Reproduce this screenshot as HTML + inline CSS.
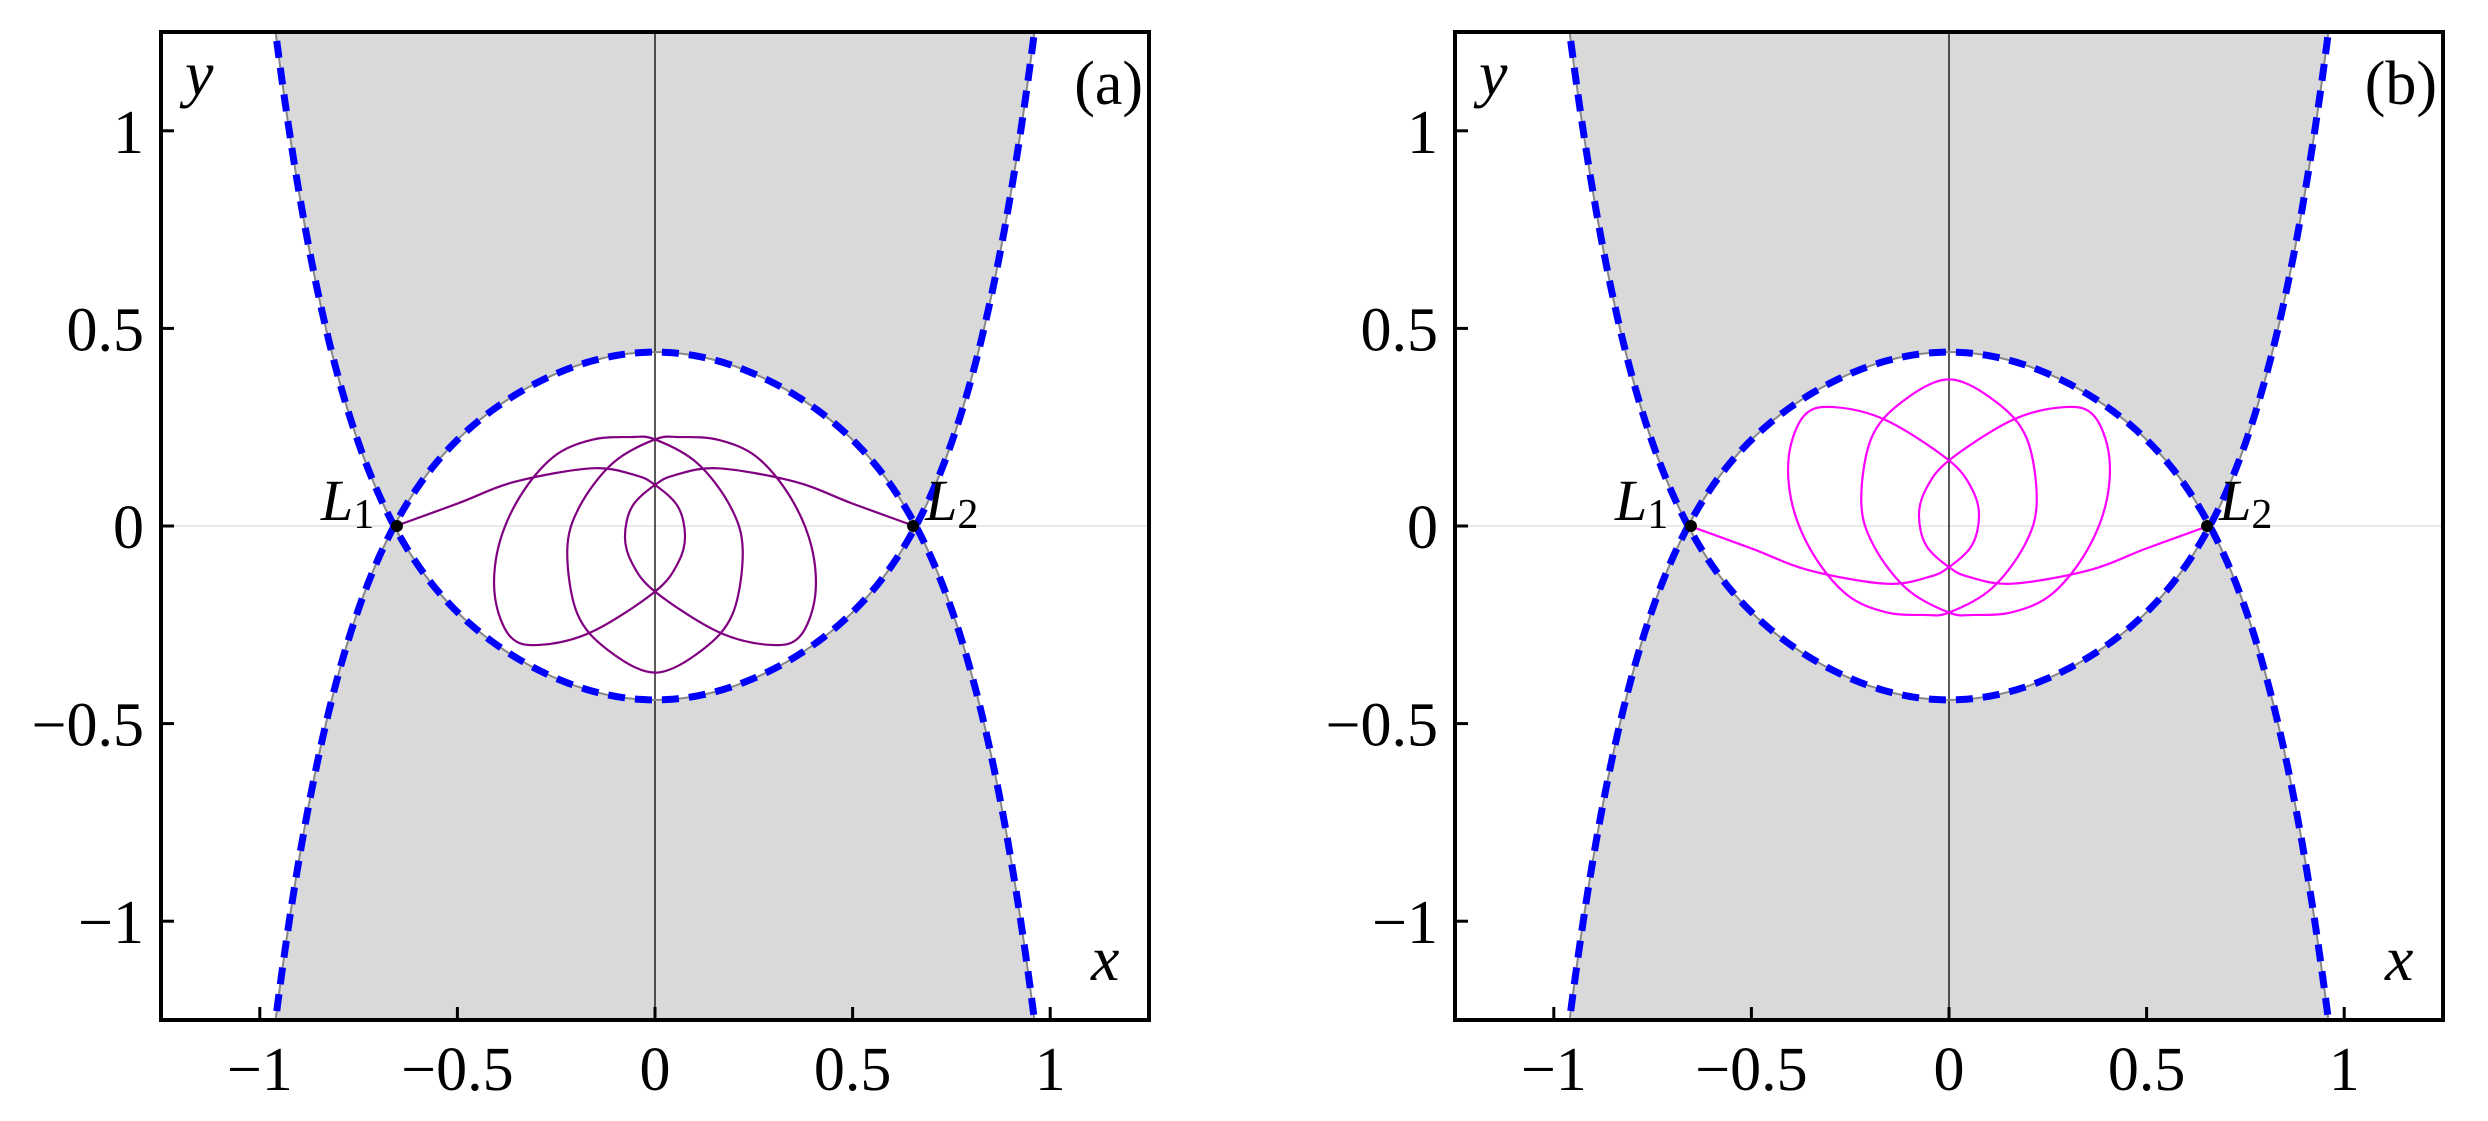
<!DOCTYPE html>
<html><head><meta charset="utf-8">
<style>
html,body{margin:0;padding:0;background:#fff;width:2488px;height:1121px;overflow:hidden;}
svg{display:block;}
text{font-family:"Liberation Serif","DejaVu Serif",serif;fill:#000;}
</style></head>
<body>
<svg id="fig" width="2488" height="1121" viewBox="0 0 2488 1121" xmlns="http://www.w3.org/2000/svg">
</svg>
<script>
// ---- data ----
const xTicks = [-1, -0.5, 0, 0.5, 1];
const xTickLabels = ["\u22121", "\u22120.5", "0", "0.5", "1"];
const yTicks = [1, 0.5, 0, -0.5, -1];
const yTickLabels = ["1", "0.5", "0", "\u22120.5", "\u22121"];
const lagrangeX = [-0.653, 0.653];
const lagrangeY = [0, 0];
// zero-velocity curve h(x) = c0 + c1 x^2 + c2 x^4 + c3 x^6
const zvcCoef = [-0.44, 0.8916, -0.400, 1.543];
const orbitAX = [-0.656,-0.499,-0.354,-0.160,-0.051,0,0.058,0.076,0.058,0,-0.160,-0.293,-0.366,-0.405,-0.396,-0.342,-0.257,-0.160,-0.063,0,
  0.107,0.191,0.222,0.197,0.119,0,-0.119,-0.197,-0.222,-0.191,-0.107,0,
  0.063,0.160,0.257,0.342,0.396,0.405,0.366,0.293,0.160,0,-0.058,-0.076,-0.058,0,0.051,0.160,0.354,0.499,0.656];
const orbitAY = [0,0.057,0.112,0.146,0.129,0.104,0.049,-0.027,-0.094,-0.166,-0.268,-0.301,-0.280,-0.179,-0.052,0.074,0.175,0.218,0.225,0.219,
  0.159,0.049,-0.061,-0.221,-0.314,-0.371,-0.314,-0.221,-0.061,0.049,0.159,0.219,
  0.225,0.218,0.175,0.074,-0.052,-0.179,-0.280,-0.301,-0.268,-0.166,-0.094,-0.027,0.049,0.104,0.129,0.146,0.112,0.057,0];
const orbitBX = orbitAX.slice();
const orbitBY = [0,-0.057,-0.112,-0.146,-0.129,-0.104,-0.049,0.027,0.094,0.166,0.268,0.301,0.280,0.179,0.052,-0.074,-0.175,-0.218,-0.225,-0.219,
  -0.159,-0.049,0.061,0.221,0.314,0.371,0.314,0.221,0.061,-0.049,-0.159,-0.219,
  -0.225,-0.218,-0.175,-0.074,0.052,0.179,0.280,0.301,0.268,0.166,0.094,0.027,-0.049,-0.104,-0.129,-0.146,-0.112,-0.057,0];

const NS = "http://www.w3.org/2000/svg";
const svg = document.getElementById('fig');
function mk(tag, attrs, parent){const e=document.createElementNS(NS,tag);for(const k in attrs)e.setAttribute(k,attrs[k]);(parent||svg).appendChild(e);return e;}
function h(x){const u=x*x;return zvcCoef[0]+zvcCoef[1]*u+zvcCoef[2]*u*u+zvcCoef[3]*u*u*u;}

function catmull(px,py){
  let d=`M${px[0].toFixed(2)},${py[0].toFixed(2)}`;
  for(let i=0;i<px.length-1;i++){
    const i0=Math.max(0,i-1),i3=Math.min(px.length-1,i+2);
    const c1x=px[i]+(px[i+1]-px[i0])/6,c1y=py[i]+(py[i+1]-py[i0])/6;
    const c2x=px[i+1]-(px[i3]-px[i])/6,c2y=py[i+1]-(py[i3]-py[i])/6;
    d+=`C${c1x.toFixed(2)},${c1y.toFixed(2)} ${c2x.toFixed(2)},${c2y.toFixed(2)} ${px[i+1].toFixed(2)},${py[i+1].toFixed(2)}`;
  }
  return d;
}

function panel(left, name, label, ox, oy, color){
  const top=32, size=988, R=1.25;
  const sx=v=>left+(v+R)/(2*R)*size;
  const sy=v=>top+(R-v)/(2*R)*size;
  const g=mk('g',{});
  
  
  const cid='clip'+name;
  const cp=mk('clipPath',{id:cid},g); mk('rect',{x:left,y:top,width:size,height:size},cp);
  const plot=mk('g',{'clip-path':`url(#${cid})`},g);
  let up='',dn='';
  const N=400;
  for(let i=0;i<=N;i++){const x=-R+2*R*i/N;const v=Math.abs(h(x));up+=(i?'L':'M')+sx(x).toFixed(2)+','+sy(v).toFixed(2);}
  up+=`L${sx(R)},${sy(R+1)}L${sx(-R)},${sy(R+1)}Z`;
  for(let i=0;i<=N;i++){const x=-R+2*R*i/N;const v=-Math.abs(h(x));dn+=(i?'L':'M')+sx(x).toFixed(2)+','+sy(v).toFixed(2);}
  dn+=`L${sx(R)},${sy(-R-1)}L${sx(-R)},${sy(-R-1)}Z`;
  const f1=mk('path',{d:up,fill:'#d9d9d9'},plot);
  
  
  const f2=mk('path',{d:dn,fill:'#d9d9d9'},plot);
  
  
  mk('line',{x1:left,x2:left+size,y1:sy(0),y2:sy(0),stroke:'#e2e2e2','stroke-width':1.5},plot);
  const va=mk('line',{x1:sx(0),x2:sx(0),y1:top,y2:top+size,stroke:'#000','stroke-width':1.3},plot);
  
  
  for(const s of [1,-1]){
    let d='';
    for(let i=0;i<=N;i++){const x=-R+2*R*i/N;d+=(i?'L':'M')+sx(x).toFixed(2)+','+sy(s*h(x)).toFixed(2);}
    mk('path',{d:d,fill:'none',stroke:'#888','stroke-width':2},plot);
    const c=mk('path',{d:d,fill:'none',stroke:'#0000ff','stroke-width':7,'stroke-dasharray':'17 10'},plot);
    
    
  }
  const o=mk('path',{d:catmull(ox.map(sx),oy.map(sy)),fill:'none',stroke:color,'stroke-width':2.2},plot);
  
  
  for(let i=0;i<lagrangeX.length;i++){
    const c=mk('circle',{cx:sx(lagrangeX[i]),cy:sy(lagrangeY[i]),r:6,fill:'#000'},plot);
    
    
  }
  const l1=mk('text',{x:sx(lagrangeX[0])-76,y:sy(0)-6,'font-size':58,'font-style':'italic'},g);
  l1.innerHTML='L<tspan font-style="normal" font-size="42" dy="8">1</tspan>';
  
  
  const l2=mk('text',{x:sx(lagrangeX[1])+12,y:sy(0)-6,'font-size':58,'font-style':'italic'},g);
  l2.innerHTML='L<tspan font-style="normal" font-size="42" dy="8">2</tspan>';
  
  
  const fr=mk('rect',{x:left,y:top,width:size,height:size,fill:'none',stroke:'#000','stroke-width':4},g);
  
  
  for(let i=0;i<xTicks.length;i++){
    const X=sx(xTicks[i]);
    mk('line',{x1:X,x2:X,y1:top+size,y2:top+size-13,stroke:'#000','stroke-width':3},g);
    const t=mk('text',{x:X,y:1090,'font-size':62,'text-anchor':'middle'},g);
    t.textContent=xTickLabels[i];
    
    
  }
  for(let i=0;i<yTicks.length;i++){
    const Y=sy(yTicks[i]);
    mk('line',{x1:left,x2:left+13,y1:Y,y2:Y,stroke:'#000','stroke-width':3},g);
    const t=mk('text',{x:left-17,y:Y+22,'font-size':62,'text-anchor':'end'},g);
    t.textContent=yTickLabels[i];
    
    
  }
  const yl=mk('text',{x:left+24,y:95,'font-size':64,'font-style':'italic'},g);
  yl.textContent='y';
  
  
  const xl=mk('text',{x:left+size-58,y:size-8,'font-size':64,'font-style':'italic'},g);
  xl.textContent='x';
  
  
  const pl=mk('text',{x:left+size-6,y:104,'font-size':62,'text-anchor':'end'},g);
  pl.textContent=label;
  
  
}
panel(161,'a','(a)',orbitAX,orbitAY,'#800080');
panel(1455,'b','(b)',orbitBX,orbitBY,'#ff00ff');
</script>
</body></html>
